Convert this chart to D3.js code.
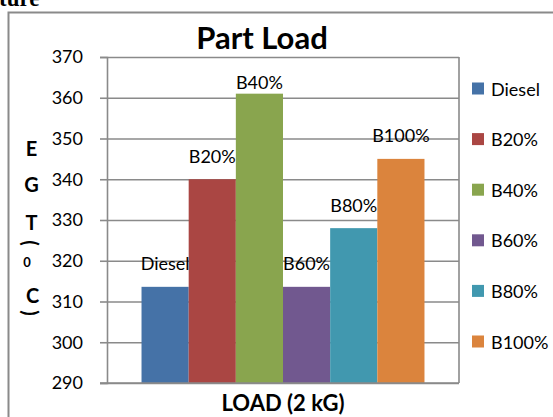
<!DOCTYPE html>
<html>
<head>
<meta charset="utf-8">
<script src="https://cdn.jsdelivr.net/npm/d3@7"></script>
<style>
    body { margin: 0; background: #fff; }
    svg { display: block; font-family: Lato, "Open Sans", sans-serif; }
</style>
</head>
<body>
<svg id="chart" width="553" height="417"></svg>
<script>
// chart values
var series = ["Diesel", "B20%", "B40%", "B60%", "B80%", "B100%"];
var values = [313.6, 340, 361, 313.6, 328, 345];
var colors = ["#4572A7", "#AA4643", "#89A54E", "#71588F", "#4198AF", "#DB843D"];
var categories = [""];
var yTicks = [290, 300, 310, 320, 330, 340, 350, 360, 370];

var width = 553,
    height = 417;
var plot = { left: 107, right: 459, top: 57, bottom: 383 };
var gridColor = "#8a8a8a";

var svg = d3.select("#chart");

// piece of the caption above the chart, cut by the crop
svg.append("text")
    .attr("x", -1)
    .attr("y", 6)
    .attr("font-family", "'Liberation Serif', serif")
    .attr("font-weight", "bold")
    .attr("font-size", 23)
    .text("ture");

// outer chart frame
svg.append("rect")
    .attr("x", 8.5)
    .attr("y", 12.5)
    .attr("width", 600)
    .attr("height", 500)
    .attr("fill", "none")
    .attr("stroke", gridColor)
    .attr("stroke-width", 2);

var y = d3.scaleLinear().domain([290, 370]).range([plot.bottom, plot.top]);

var x0 = d3.scaleBand()
    .domain(categories)
    .range([plot.left, plot.right])
    .paddingInner(0)
    .paddingOuter(0.122);

var x1 = d3.scaleBand()
    .domain(series)
    .range([0, x0.bandwidth()])
    .padding(0);

// gridlines
svg.append("g")
    .attr("class", "grid")
    .attr("transform", "translate(" + plot.left + ",0)")
    .call(d3.axisLeft(y).tickValues(yTicks).tickSize(-(plot.right - plot.left)).tickFormat(""))
    .call(function (g) {
        g.select(".domain").remove();
        g.selectAll("line").attr("stroke", gridColor).attr("stroke-width", 1.6);
    });

// y axis with ticks
svg.append("g")
    .attr("transform", "translate(" + plot.left + ",0)")
    .call(d3.axisLeft(y).tickValues(yTicks).tickSize(7).tickPadding(17))
    .call(function (g) {
        g.select(".domain").attr("stroke", gridColor).attr("stroke-width", 1.6);
        g.selectAll("line").attr("stroke", gridColor).attr("stroke-width", 1.6);
        g.selectAll("text")
            .attr("font-family", "Lato, sans-serif")
            .attr("font-size", 18)
            .attr("fill", "#000");
    });

// right border of the plot area
svg.append("line")
    .attr("x1", plot.right).attr("x2", plot.right)
    .attr("y1", plot.top).attr("y2", plot.bottom)
    .attr("stroke", gridColor)
    .attr("stroke-width", 1.6);

// bars
var group = svg.append("g")
    .selectAll("g")
    .data(categories)
    .join("g")
    .attr("transform", function (d) {
        return "translate(" + x0(d) + ",0)";
    });

var barData = series.map(function (s, i) {
    return { name: s, value: values[i], color: colors[i] };
});

group.selectAll("rect")
    .data(barData)
    .join("rect")
    .attr("x", function (d) { return x1(d.name); })
    .attr("y", function (d) { return y(d.value); })
    .attr("width", x1.bandwidth())
    .attr("height", function (d) { return y(290) - y(d.value); })
    .attr("fill", function (d) { return d.color; });

// bottom axis line on top of bars
svg.append("line")
    .attr("x1", plot.left - 7).attr("x2", plot.right)
    .attr("y1", plot.bottom).attr("y2", plot.bottom)
    .attr("stroke", gridColor)
    .attr("stroke-width", 1.6);

// data labels (kept inside the plot when a bar is tall)
group.selectAll("text")
    .data(barData)
    .join("text")
    .attr("x", function (d) { return x1(d.name) + x1.bandwidth() / 2; })
    .attr("y", function (d) { return Math.max(y(d.value) - 23.5, plot.top + 25); })
    .attr("text-anchor", "middle")
    .attr("dominant-baseline", "central")
    .attr("font-size", 18)
    .attr("fill", "#000")
    .text(function (d) { return d.name; });

// title
svg.append("text")
    .attr("x", 262)
    .attr("y", 49)
    .attr("text-anchor", "middle")
    .attr("font-weight", "bold")
    .attr("font-size", 31)
    .text("Part Load");

// x axis title
svg.append("text")
    .attr("x", (plot.left + plot.right) / 2)
    .attr("y", 411)
    .attr("text-anchor", "middle")
    .attr("font-weight", "bold")
    .attr("font-size", 22)
    .text("LOAD (2 kG)");

// stacked y axis title: E G T ( 0 C )
var yTitle = [
    { ch: "E", x: 31.5, y: 148, size: 20, rot: false },
    { ch: "G", x: 31.5, y: 184, size: 20, rot: false },
    { ch: "T", x: 31.5, y: 222, size: 20, rot: false },
    { ch: "(", x: 31, y: 243, size: 20, rot: true },
    { ch: "0", x: 27, y: 262, size: 13, rot: false },
    { ch: "C", x: 32.5, y: 295, size: 20, rot: false },
    { ch: ")", x: 31, y: 313, size: 20, rot: true }
];
svg.append("g")
    .selectAll("text")
    .data(yTitle)
    .join("text")
    .attr("transform", function (d) {
        return "translate(" + d.x + "," + d.y + ")" + (d.rot ? " rotate(90)" : "");
    })
    .attr("text-anchor", "middle")
    .attr("dominant-baseline", "central")
    .attr("font-weight", "bold")
    .attr("font-size", function (d) { return d.size; })
    .text(function (d) { return d.ch; });

// legend
var legend = svg.append("g")
    .selectAll("g")
    .data(barData)
    .join("g")
    .attr("transform", function (d, i) {
        return "translate(472," + (88.5 + i * 50.6) + ")";
    });

legend.append("rect")
    .attr("x", 0)
    .attr("y", -6)
    .attr("width", 12)
    .attr("height", 12)
    .attr("fill", function (d) { return d.color; });

legend.append("text")
    .attr("x", 19)
    .attr("y", 0)
    .attr("dominant-baseline", "central")
    .attr("font-size", 18)
    .attr("fill", "#000")
    .text(function (d) { return d.name; });
</script>
</body>
</html>
